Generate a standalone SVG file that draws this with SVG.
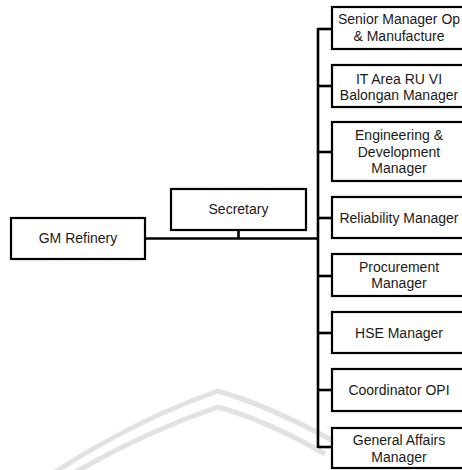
<svg xmlns="http://www.w3.org/2000/svg" width="462" height="470" viewBox="0 0 462 470">
  <style>
    .box { fill: #ffffff; stroke: #000000; stroke-width: 2.2; }
    .lbl { font-family: "Liberation Sans", Arial, sans-serif; font-size: 14px; fill: #1a1a1a; text-anchor: middle; }
    .wire { fill: none; stroke: #000000; stroke-width: 2.6; }
    .mark { fill: none; stroke: #e2e2e2; stroke-width: 5; }
  </style>
  <rect width="462" height="470" fill="#ffffff"/>

  <!-- faint background emblem arcs -->
  <g id="emblem">
    <path class="mark" d="M52,474 Q135,420 218,391 Q272,407 335,442"/>
    <path class="mark" d="M72,474 Q145,432 218,407 Q268,421 325,454"/>
  </g>

  <!-- connectors -->
  <g id="connectors">
    <line class="wire" x1="145" y1="238.5" x2="318" y2="238.5"/>
    <line class="wire" x1="238.5" y1="230" x2="238.5" y2="238.5"/>
    <line class="wire" x1="318" y1="28" x2="318" y2="448"/>
    <line class="wire" x1="318" y1="29" x2="332" y2="29"/>
    <line class="wire" x1="318" y1="86" x2="332" y2="86"/>
    <line class="wire" x1="318" y1="152" x2="332" y2="152"/>
    <line class="wire" x1="318" y1="218" x2="332" y2="218"/>
    <line class="wire" x1="318" y1="276" x2="332" y2="276"/>
    <line class="wire" x1="318" y1="333" x2="332" y2="333"/>
    <line class="wire" x1="318" y1="390" x2="332" y2="390"/>
    <line class="wire" x1="318" y1="447" x2="332" y2="447"/>
  </g>

  <g id="gm-refinery">
    <rect class="box" x="11" y="218" width="134" height="41"/>
    <text class="lbl" x="78" y="243">GM Refinery</text>
  </g>

  <g id="secretary">
    <rect class="box" x="171" y="189" width="135" height="41"/>
    <text class="lbl" x="238.5" y="214">Secretary</text>
  </g>

  <g id="senior-manager-op">
    <rect class="box" x="332" y="7" width="136" height="42"/>
    <text class="lbl" x="399" y="24">Senior Manager Op</text>
    <text class="lbl" x="399" y="41">&amp; Manufacture</text>
  </g>

  <g id="it-area">
    <rect class="box" x="332" y="65" width="136" height="42"/>
    <text class="lbl" x="399" y="84">IT Area RU VI</text>
    <text class="lbl" x="399" y="100">Balongan Manager</text>
  </g>

  <g id="engineering">
    <rect class="box" x="332" y="122" width="136" height="59"/>
    <text class="lbl" x="399" y="140">Engineering &amp;</text>
    <text class="lbl" x="399" y="157">Development</text>
    <text class="lbl" x="399" y="173">Manager</text>
  </g>

  <g id="reliability">
    <rect class="box" x="332" y="197" width="136" height="41"/>
    <text class="lbl" x="399" y="223">Reliability Manager</text>
  </g>

  <g id="procurement">
    <rect class="box" x="332" y="254" width="136" height="42"/>
    <text class="lbl" x="399" y="272">Procurement</text>
    <text class="lbl" x="399" y="288">Manager</text>
  </g>

  <g id="hse">
    <rect class="box" x="332" y="312" width="136" height="41"/>
    <text class="lbl" x="399" y="338">HSE Manager</text>
  </g>

  <g id="coordinator-opi">
    <rect class="box" x="332" y="369" width="136" height="42"/>
    <text class="lbl" x="399" y="395">Coordinator OPI</text>
  </g>

  <g id="general-affairs">
    <rect class="box" x="332" y="428" width="136" height="40"/>
    <text class="lbl" x="399" y="445">General Affairs</text>
    <text class="lbl" x="399" y="462">Manager</text>
  </g>
</svg>
